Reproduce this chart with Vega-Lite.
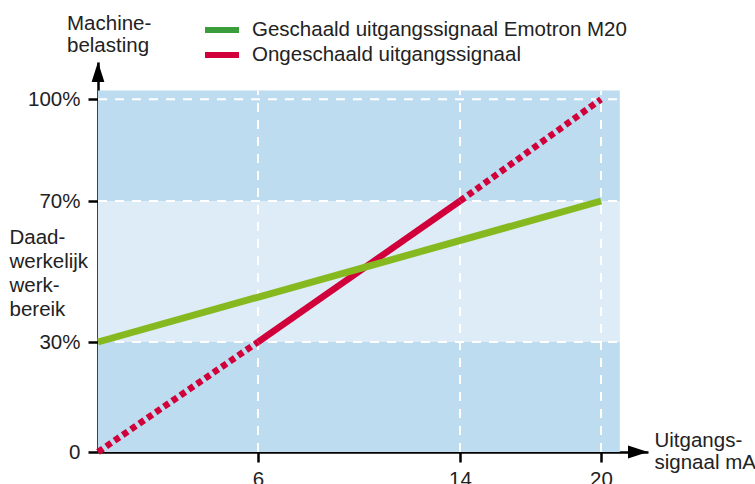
{
  "$schema": "https://vega.github.io/schema/vega-lite/v6.json",
  "width": 550,
  "height": 390,
  "autosize": "none",
  "padding": {"left": 98, "top": 62, "right": 107, "bottom": 32},
  "background": "white",
  "config": {
    "view": {"stroke": null},
    "font": "Liberation Sans",
    "legend": {
      "orient": "none",
      "legendX": 111,
      "legendY": -45,
      "padding": 0,
      "symbolType": "M-1.7,0H1.7",
      "symbolSize": 400,
      "symbolStrokeWidth": 6,
      "symbolOpacity": 1,
      "labelFont": "Liberation Sans",
      "labelFontSize": 20.5,
      "labelColor": "#222222",
      "labelLimit": 500,
      "labelOffset": 17,
      "rowPadding": -3
    }
  },
  "title": {
    "text": ["Machine-", "belasting"],
    "anchor": "start",
    "frame": "group",
    "orient": "top",
    "offset": 0,
    "dx": -31,
    "dy": 59,
    "baseline": "bottom",
    "font": "Liberation Sans",
    "fontSize": 20.5,
    "fontWeight": "normal",
    "color": "#222222",
    "lineHeight": 22
  },
  "datasets": {
    "bands": [
      {"band": "outer", "x": 0, "x2": 20.8, "y": 0, "y2": 30},
      {"band": "inner", "x": 0, "x2": 20.8, "y": 30, "y2": 70},
      {"band": "outer", "x": 0, "x2": 20.8, "y": 70, "y2": 102.6}
    ],
    "hgrid": [
      {"x": 0, "x2": 20.8, "y": 30},
      {"x": 0, "x2": 20.8, "y": 70},
      {"x": 0, "x2": 20.8, "y": 100}
    ],
    "vgrid": [
      {"x": 6, "y": 0, "y2": 102.6},
      {"x": 14, "y": 0, "y2": 102.6},
      {"x": 20, "y": 0, "y2": 102.6}
    ],
    "lines": [
      {"series": "Ongeschaald uitgangssignaal", "part": "dot", "seg": "a", "x": 0, "y": 0},
      {"series": "Ongeschaald uitgangssignaal", "part": "dot", "seg": "a", "x": 6, "y": 30},
      {"series": "Ongeschaald uitgangssignaal", "part": "solid", "seg": "b", "x": 6, "y": 30},
      {"series": "Ongeschaald uitgangssignaal", "part": "solid", "seg": "b", "x": 14, "y": 70},
      {"series": "Ongeschaald uitgangssignaal", "part": "dot", "seg": "c", "x": 14, "y": 70},
      {"series": "Ongeschaald uitgangssignaal", "part": "dot", "seg": "c", "x": 20, "y": 100},
      {"series": "Geschaald uitgangssignaal Emotron M20", "part": "solid", "seg": "g", "x": 0, "y": 30},
      {"series": "Geschaald uitgangssignaal Emotron M20", "part": "solid", "seg": "g", "x": 20, "y": 70}
    ],
    "arrowUp": [{"x": 0, "y": 111}],
    "arrowRight": [{"x": 22, "y": 0}]
  },
  "encoding": {
    "x": {
      "field": "x",
      "type": "quantitative",
      "scale": {"domain": [0, 6, 14, 22], "range": [0, 160, 362, 550], "nice": false, "zero": false},
      "axis": {
        "values": [6, 14, 20],
        "grid": false,
        "domainColor": "#000000",
        "domainWidth": 2.5,
        "tickColor": "#000000",
        "tickWidth": 2.5,
        "tickSize": 10,
        "labelPadding": 7,
        "labelFont": "Liberation Sans",
        "labelFontSize": 20.5,
        "labelColor": "#222222",
        "labelFlush": false,
        "title": ["Uitgangs-", "signaal mA"],
        "titleFont": "Liberation Sans",
        "titleFontSize": 20.5,
        "titleFontWeight": "normal",
        "titleColor": "#222222",
        "titleAlign": "left",
        "titleBaseline": "alphabetic",
        "titleAngle": 0,
        "titleX": 556,
        "titleY": -6,
        "titleLineHeight": 22
      }
    },
    "y": {
      "field": "y",
      "type": "quantitative",
      "scale": {"domain": [0, 30, 70, 111], "range": [390, 280, 139, 0], "nice": false, "zero": false},
      "axis": {
        "values": [0, 30, 70, 100],
        "labelExpr": "datum.value == 0 ? '0' : datum.value + '%'",
        "grid": false,
        "domainColor": "#000000",
        "domainWidth": 2.5,
        "tickColor": "#000000",
        "tickWidth": 2.5,
        "tickSize": 10,
        "labelPadding": 8,
        "labelFont": "Liberation Sans",
        "labelFontSize": 20.5,
        "labelColor": "#222222",
        "labelFlush": false,
        "title": ["Daad-", "werkelijk", "werk-", "bereik"],
        "titleFont": "Liberation Sans",
        "titleFontSize": 20.5,
        "titleFontWeight": "normal",
        "titleColor": "#222222",
        "titleAlign": "left",
        "titleBaseline": "alphabetic",
        "titleAngle": 0,
        "titleX": -89,
        "titleY": 181,
        "titleLineHeight": 24
      }
    }
  },
  "layer": [
    {
      "data": {"name": "bands"},
      "mark": {"type": "rect"},
      "encoding": {
        "x2": {"field": "x2"},
        "y2": {"field": "y2"},
        "fill": {"field": "band", "type": "nominal", "scale": {"domain": ["outer", "inner"], "range": ["#bddcf0", "#deecf8"]}, "legend": null}
      }
    },
    {
      "data": {"name": "hgrid"},
      "mark": {"type": "rule", "color": "#ffffff", "strokeWidth": 2, "strokeDash": [9, 8]},
      "encoding": {"x2": {"field": "x2"}}
    },
    {
      "data": {"name": "vgrid"},
      "mark": {"type": "rule", "color": "#ffffff", "strokeWidth": 2, "strokeDash": [9, 8]},
      "encoding": {"y2": {"field": "y2"}}
    },
    {
      "data": {"name": "lines"},
      "transform": [{"filter": "datum.part == 'dot'"}],
      "mark": {"type": "line", "color": "#d1003a", "strokeWidth": 6.5, "strokeDash": [6, 4], "strokeCap": "butt"},
      "encoding": {"detail": {"field": "seg"}}
    },
    {
      "data": {"name": "lines"},
      "transform": [{"filter": "datum.seg == 'b'"}],
      "mark": {"type": "line", "color": "#d1003a", "strokeWidth": 6.5, "strokeCap": "butt"},
      "encoding": {"detail": {"field": "seg"}}
    },
    {
      "data": {"name": "lines"},
      "transform": [{"filter": "datum.seg == 'g'"}],
      "mark": {"type": "line", "color": "#86b91f", "strokeWidth": 7, "strokeCap": "butt"},
      "encoding": {"detail": {"field": "seg"}}
    },
    {
      "data": {"name": "lines"},
      "mark": {"type": "line", "opacity": 0},
      "encoding": {
        "detail": {"field": "seg"},
        "color": {
          "field": "series",
          "type": "nominal",
          "scale": {"domain": ["Geschaald uitgangssignaal Emotron M20", "Ongeschaald uitgangssignaal"], "range": ["#3a9c3a", "#d1003a"]},
          "legend": {"title": null}
        }
      }
    },
    {
      "data": {"name": "arrowUp"},
      "mark": {"type": "point", "shape": "M0,0L0.32,1L-0.32,1Z", "size": 1600, "filled": true, "color": "#000000", "opacity": 1}
    },
    {
      "data": {"name": "arrowRight"},
      "mark": {"type": "point", "shape": "M0,0L-1,-0.32L-1,0.32Z", "size": 1600, "filled": true, "color": "#000000", "opacity": 1}
    }
  ]
}
